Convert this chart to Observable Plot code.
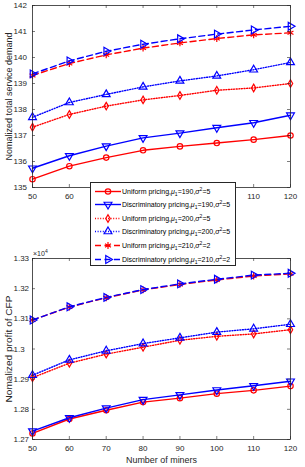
<!DOCTYPE html>
<html><head><meta charset="utf-8">
<script src="https://cdn.jsdelivr.net/npm/d3@7"></script>
<script src="https://cdn.jsdelivr.net/npm/@observablehq/plot@0.6"></script>
<style>
body{margin:0;background:#fff;font-family:"Liberation Sans",Arial,sans-serif;}
#wrap{position:relative;width:305px;height:467px;overflow:hidden;}
#wrap svg{display:block}
#legend{position:absolute;left:90px;top:182px;width:146px;height:84px;background:#fff;border:0.8px solid #262626;box-sizing:border-box;}
.row{position:absolute;left:0;height:13px;display:flex;align-items:center;font-size:7px;color:#000;white-space:nowrap;line-height:13px}
.row svg{width:31px;height:13px;flex:none}
.row sub,.row sup{font-size:5px;line-height:0}
.row sub{vertical-align:-1.5px}
.row sup{vertical-align:3px}
#exp{position:absolute;left:33px;top:250px;font-size:7px;color:#262626;line-height:8px}
#exp sup{font-size:5px;line-height:0;vertical-align:3px}
</style></head><body><div id="wrap"></div>
<script>
// ---- data ----
const miners = [50, 60, 70, 80, 90, 100, 110, 120];
const xTicks = [50, 60, 70, 80, 90, 100, 110, 120];
const demandTicks = [135, 136, 137, 138, 139, 140, 141, 142];
const profitTicks = [1.27, 1.28, 1.29, 1.30, 1.31, 1.32, 1.33];

const demandUni190 = [135.32, 135.82, 136.15, 136.43, 136.58, 136.71, 136.84, 137.00];
const demandDis190 = [135.74, 136.22, 136.59, 136.91, 137.09, 137.30, 137.49, 137.78];
const demandUni200 = [137.32, 137.81, 138.13, 138.37, 138.54, 138.74, 138.83, 139.00];
const demandDis200 = [137.70, 138.27, 138.58, 138.87, 139.10, 139.29, 139.53, 139.81];
const demandUni210 = [139.31, 139.77, 140.10, 140.36, 140.56, 140.73, 140.87, 140.95];
const demandDis210 = [139.37, 139.87, 140.24, 140.51, 140.72, 140.90, 141.06, 141.20];

// profit in units of 10^4
const profitUni190 = [1.2720, 1.2768, 1.2797, 1.2824, 1.2837, 1.2852, 1.2863, 1.2877];
const profitDis190 = [1.2728, 1.2772, 1.2804, 1.2832, 1.2848, 1.2864, 1.2878, 1.2893];
const profitUni200 = [1.2905, 1.2953, 1.2983, 1.3006, 1.3029, 1.3042, 1.3050, 1.3064];
const profitDis200 = [1.2913, 1.2964, 1.2994, 1.3018, 1.3037, 1.3056, 1.3067, 1.3082];
const profitUni210 = [1.3096, 1.3139, 1.3170, 1.3196, 1.3214, 1.3229, 1.3242, 1.3249];
const profitDis210 = [1.3096, 1.3140, 1.3171, 1.3197, 1.3216, 1.3231, 1.3245, 1.3251];

const seriesNames = ["Uniform pricing", "Discriminatory pricing", "Uniform pricing", "Discriminatory pricing", "Uniform pricing", "Discriminatory pricing"];
const seriesMu = [190, 190, 200, 200, 210, 210];
const seriesSigma2 = [5, 5, 5, 5, 2, 2];

// ---- styles ----
const RED = "#ff0000", BLUE = "#0000ff", AX = "#262626";
const styles = [
  {color: RED, dash: null, symbol: "circle", rotate: 0, r: 2.7},
  {color: BLUE, dash: null, symbol: "triangle", rotate: 180, r: 2.9},
  {color: RED, dash: "1,1.6", symbol: "diamond", rotate: 0, r: 2.3},
  {color: BLUE, dash: "1,1.6", symbol: "triangle", rotate: 0, r: 2.9},
  {color: RED, dash: "6,3.5", symbol: "asterisk", rotate: 0, r: 3.2},
  {color: BLUE, dash: "6,3.5", symbol: "triangle", rotate: 90, r: 2.9}
];
const demandSeries = [demandUni190, demandDis190, demandUni200, demandDis200, demandUni210, demandDis210];
const profitSeries = [profitUni190, profitDis190, profitUni200, profitDis200, profitUni210, profitDis210];

function seriesMarks(allVals) {
  const marks = [];
  allVals.forEach((vals, i) => {
    const st = styles[i];
    const data = miners.map((m, j) => ({x: m, y: vals[j]}));
    marks.push(Plot.line(data, {x: "x", y: "y", stroke: st.color, strokeWidth: 1.4, strokeDasharray: st.dash}));
    marks.push(Plot.dot(data, {x: "x", y: "y", stroke: st.color, fill: "none", strokeWidth: 1.2, symbol: st.symbol, rotate: st.rotate, r: st.r}));
  });
  return marks;
}

function frameMarks(innerW, innerH, yTicks, fmt) {
  const t = 3;
  return [
    Plot.tickX(xTicks, {x: d => d, insetTop: innerH - t, stroke: AX, strokeWidth: 0.6}),
    Plot.tickX(xTicks, {x: d => d, insetBottom: innerH - t, stroke: AX, strokeWidth: 0.6}),
    Plot.tickY(yTicks, {y: d => d, insetRight: innerW - t, stroke: AX, strokeWidth: 0.6}),
    Plot.tickY(yTicks, {y: d => d, insetLeft: innerW - t, stroke: AX, strokeWidth: 0.6}),
    Plot.frame({stroke: AX, strokeWidth: 0.8}),
    Plot.axisX({ticks: xTicks, tickSize: 0, tickPadding: 5.5, label: null, fill: AX}),
    Plot.axisY({ticks: yTicks, tickSize: 0, tickPadding: 19, textAnchor: "start", label: null, tickFormat: fmt, fill: AX})
  ];
}

const W = 305, ML = 32, MR = 15;
const innerW = W - ML - MR;

// top chart
const topH = 200, topMT = 5, topMB = 13;
const topChart = Plot.plot({
  width: W, height: topH, marginTop: topMT, marginBottom: topMB, marginLeft: ML, marginRight: MR,
  style: {fontFamily: "'Liberation Sans', Arial, sans-serif", fontSize: "8px", background: "transparent", overflow: "visible"},
  x: {domain: [50, 120]},
  y: {domain: [135, 142]},
  marks: [
    ...seriesMarks(demandSeries),
    ...frameMarks(innerW, topH - topMT - topMB, demandTicks, d => String(d)),
    Plot.text(["Nomalized total service demand"], {className: "ytitle-top", frameAnchor: "left", text: d => d, rotate: -90, dx: -27, textAnchor: "middle", lineAnchor: "top", fontSize: 9, fill: AX})
  ]
});

// bottom chart
const botH = 267, botMT = 58, botMB = 28;
const botChart = Plot.plot({
  width: W, height: botH, marginTop: botMT, marginBottom: botMB, marginLeft: ML, marginRight: MR,
  style: {fontFamily: "'Liberation Sans', Arial, sans-serif", fontSize: "8px", background: "transparent", overflow: "visible"},
  x: {domain: [50, 120]},
  y: {domain: [1.27, 1.33]},
  marks: [
    ...seriesMarks(profitSeries),
    ...frameMarks(innerW, botH - botMT - botMB, profitTicks, d => String(Math.round(d * 100) / 100)),
    Plot.text(["Nomalized profit of CFP"], {className: "ytitle-bot", frameAnchor: "left", text: d => d, rotate: -90, dx: -27, textAnchor: "middle", lineAnchor: "top", fontSize: 9.5, fill: AX}),
    Plot.text(["Number of miners"], {className: "xtitle", frameAnchor: "bottom", text: d => d, dy: 23, textAnchor: "middle", lineAnchor: "bottom", fontSize: 9, fill: AX})
  ]
});

// fit title lengths to the reference's measured spans
function fitLength(svg, cls, len) {
  d3.select(svg).selectAll(`.${cls} text`).attr("textLength", len).attr("lengthAdjust", "spacingAndGlyphs");
}
fitLength(topChart, "ytitle-top", 128);
fitLength(botChart, "ytitle-bot", 107);
fitLength(botChart, "xtitle", 71);

const wrap = document.getElementById("wrap");
wrap.appendChild(topChart);
wrap.appendChild(botChart);

// exponent label
const exp = document.createElement("div");
exp.id = "exp";
exp.innerHTML = "×10<sup>4</sup>";
wrap.appendChild(exp);

// legend
const legend = document.createElement("div");
legend.id = "legend";
const symMap = {circle: d3.symbolCircle, triangle: d3.symbolTriangle, diamond: d3.symbolDiamond, asterisk: d3.symbolAsterisk};
styles.forEach((st, i) => {
  const row = document.createElement("div");
  row.className = "row";
  row.style.top = (1.5 + i * 13.6) + "px";
  const svg = d3.create("svg").attr("width", 31).attr("height", 13);
  svg.append("line").attr("x1", 4).attr("x2", 30).attr("y1", 6.5).attr("y2", 6.5)
    .attr("stroke", st.color).attr("stroke-width", 1.4).attr("stroke-dasharray", st.dash);
  svg.append("path").attr("d", d3.symbol(symMap[st.symbol], Math.PI * st.r * st.r)())
    .attr("transform", `translate(17,6.5) rotate(${st.rotate})`)
    .attr("fill", "none").attr("stroke", st.color).attr("stroke-width", 1.2);
  row.appendChild(svg.node());
  const span = document.createElement("span");
  span.innerHTML = `${seriesNames[i]},<i>μ</i><sub>1</sub>=${seriesMu[i]},<i>σ</i><sup>2</sup>=${seriesSigma2[i]}`;
  row.appendChild(span);
  legend.appendChild(row);
});
wrap.appendChild(legend);
</script></body></html>
